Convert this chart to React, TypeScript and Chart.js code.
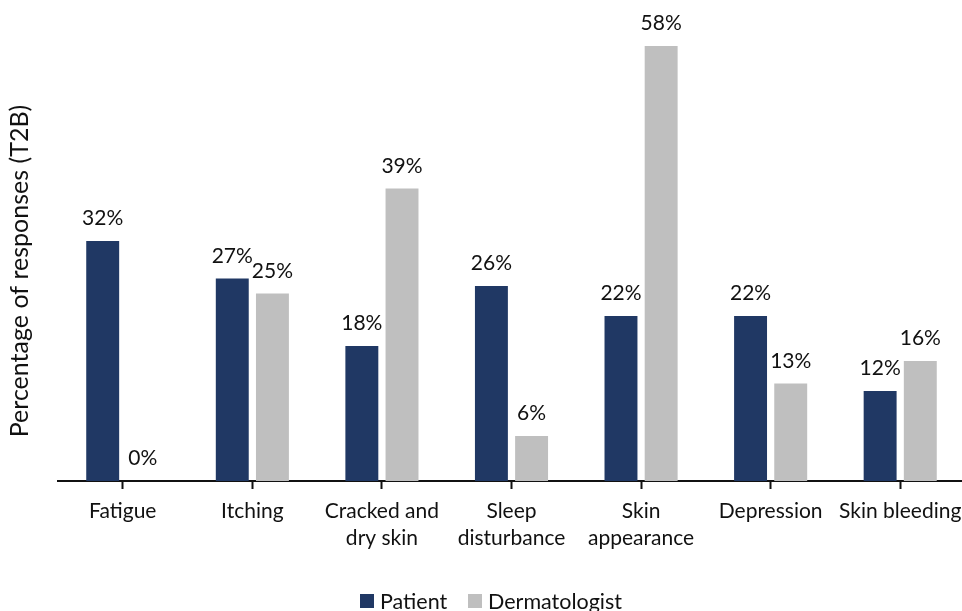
import React, { useEffect, useRef } from "react";
import { Chart, registerables } from "chart.js";

Chart.register(...registerables);

const categories: string[][] = [
  ["Fatigue"],
  ["Itching"],
  ["Cracked and", "dry skin"],
  ["Sleep", "disturbance"],
  ["Skin", "appearance"],
  ["Depression"],
  ["Skin bleeding"],
];
const patientValues = [32, 27, 18, 26, 22, 22, 12];
const dermatologistValues = [0, 25, 39, 6, 58, 13, 16];
const seriesNames = ["Patient", "Dermatologist"];
const seriesColors = ["#203864", "#BFBFBF"];
const yTitle = "Percentage of responses (T2B)";

const FONT = "Lato, 'Open Sans', sans-serif";
const W = 965;
const H = 611;

// Value labels above every bar, the rotated axis title and the legend row
const overlayPlugin = {
  id: "overlay",
  afterDatasetsDraw(chart: any) {
    const ctx = chart.ctx as CanvasRenderingContext2D;
    ctx.save();
    ctx.fillStyle = "#111";
    ctx.font = `21px ${FONT}`;
    ctx.textAlign = "center";
    ctx.textBaseline = "alphabetic";
    chart.data.datasets.forEach((ds: any, di: number) => {
      const meta = chart.getDatasetMeta(di);
      meta.data.forEach((bar: any, i: number) => {
        ctx.fillText(`${ds.data[i]}%`, bar.x, bar.y - 16);
      });
    });

    // y-axis title
    ctx.save();
    ctx.font = `25px ${FONT}`;
    ctx.translate(28, 271);
    ctx.rotate(-Math.PI / 2);
    ctx.textAlign = "center";
    ctx.fillText(yTitle, 0, 0);
    ctx.restore();

    // legend
    const ly = 601;
    ctx.font = `21.5px ${FONT}`;
    ctx.textAlign = "left";
    ctx.textBaseline = "middle";
    const items = [
      { x: 360, label: seriesNames[0], color: seriesColors[0] },
      { x: 468, label: seriesNames[1], color: seriesColors[1] },
    ];
    items.forEach((it) => {
      ctx.fillStyle = it.color;
      ctx.fillRect(it.x, ly - 7, 14, 14);
      ctx.fillStyle = "#111";
      ctx.fillText(it.label, it.x + 20, ly + 1);
    });
    ctx.restore();
  },
};

export default function App() {
  const ref = useRef<HTMLCanvasElement | null>(null);

  useEffect(() => {
    document.body.style.margin = "0";
    document.body.style.overflow = "hidden";
    const chart = new Chart(ref.current as HTMLCanvasElement, {
      type: "bar",
      data: {
        labels: categories,
        datasets: [
          {
            label: seriesNames[0],
            data: patientValues,
            backgroundColor: seriesColors[0],
            categoryPercentage: 0.62,
            barPercentage: 0.82,
          },
          {
            label: seriesNames[1],
            data: dermatologistValues,
            backgroundColor: seriesColors[1],
            categoryPercentage: 0.62,
            barPercentage: 0.82,
          },
        ],
      },
      options: {
        animation: false,
        responsive: false,
        layout: { padding: { left: 58, right: 0, top: 1, bottom: 0 } },
        plugins: { legend: { display: false }, tooltip: { enabled: false } },
        scales: {
          x: {
            offset: true,
            grid: {
              offset: false,
              drawOnChartArea: false,
              drawTicks: true,
              tickLength: 8,
              tickWidth: 2,
              tickColor: "#111",
            },
            border: { display: true, color: "#111", width: 2 },
            ticks: {
              color: "#111",
              font: { family: FONT, size: 21, lineHeight: 1.29 },
              padding: 9,
              maxRotation: 0,
              autoSkip: false,
            },
            afterFit(scale: any) {
              scale.height = 130;
              scale.paddingLeft = 0;
              scale.paddingRight = 0;
            },
          },
          y: {
            display: false,
            min: 0,
            max: 64,
          },
        },
      },
      plugins: [overlayPlugin],
    });
    return () => chart.destroy();
  }, []);

  return (
    <div style={{ position: "absolute", left: 0, top: 0, width: W, height: H }}>
      <canvas ref={ref} width={W} height={H} style={{ width: W, height: H }} />
    </div>
  );
}
